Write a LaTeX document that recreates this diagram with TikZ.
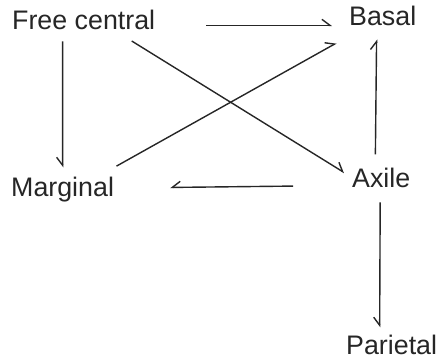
\documentclass[tikz,border=0pt]{standalone}
\usepackage{fontspec}
\setmainfont{Liberation Sans}
\usetikzlibrary{arrows.meta,calc}
\tikzset{
  lbl/.style={anchor=base west, inner sep=0pt, text=black!85,
              font=\fontsize{26.8}{32}\selectfont},
  flow/.style={-{Straight Barb[left, length=8pt, width=12pt]}, line width=1.4pt, draw=black!85},
  flowr/.style={-{Straight Barb[right, length=8pt, width=12pt]}, line width=1.4pt, draw=black!85},
}
\begin{document}
\begin{tikzpicture}[x=1pt, y=-1pt]
  \useasboundingbox (0,0) rectangle (445,361);
  \node[lbl] (fc) at (12,30) {Free central};
  \node[lbl] (basal) at (349,26) {Basal};
  \node[lbl] (marg) at (11,196) {Marginal};
  \node[lbl] (axile) at (352,187) {Axile};
  \node[lbl] (pariet) at (346,354) {Parietal};
  % top row and crossing lines
  \draw[flow, shorten <=51pt, shorten >=17pt] ($(fc.mid east)+(0,-2)$) -- ($(fc.mid east -| basal.west)+(0,-2)$);
  \draw[flowr, shorten <=11pt, shorten >=9pt] ($(fc.south)+(-21,0)$) -- ($(marg.north)+(0,0)$);
  \draw[flow, shorten <=20pt, shorten >=9pt] ($(fc.south)+(31,0)$) -- (axile.west);
  \draw[flow, shorten <=21pt, shorten >=34pt] ($(marg.north east)+(-16,0)$) -- ($(basal.south west)+(17,0)$);
  % right column
  \draw[flow, shorten <=13pt, shorten >=13pt] ($(axile.north)+(-6,0)$) -- ($(basal.south)+(-6,0)$);
  \draw[flowr, shorten <=59pt, shorten >=56pt] ($(axile.west)+(0,8)$) -- ($(marg.east)+(0,-1)$);
  \draw[flowr, shorten <=15pt, shorten >=7pt] ($(axile.south)+(-1,0)$) -- ($(pariet.north)+(-12,0)$);
\end{tikzpicture}
\end{document}
